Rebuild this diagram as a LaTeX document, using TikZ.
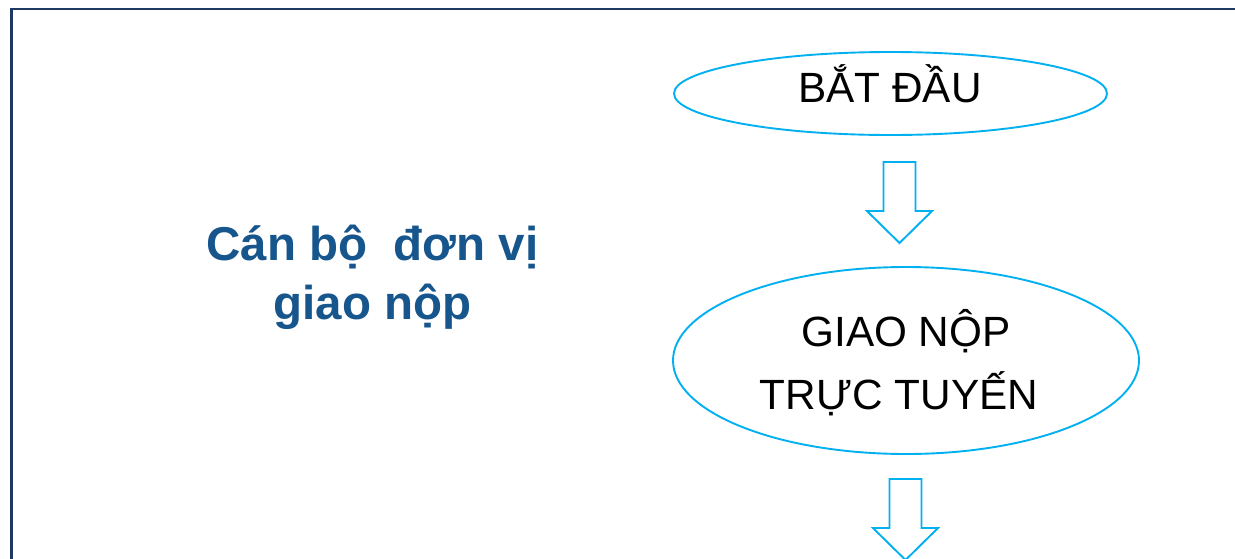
\documentclass[tikz,border=0pt]{standalone}
\usepackage{fontspec}
\setmainfont{Liberation Sans}
\usetikzlibrary{shapes.geometric}
\definecolor{framecol}{RGB}{31,56,100}
\definecolor{sky}{RGB}{0,176,240}
\definecolor{txtblue}{RGB}{23,86,140}
\begin{document}
\begin{tikzpicture}[x=1pt,y=-1pt,
  oval/.style={draw=sky, line width=1.9pt, ellipse, inner sep=0pt},
  flowtext/.style={anchor=base, inner sep=0pt, font=\fontsize{42.3}{50}\selectfont},
  lefttext/.style={anchor=base, inner sep=0pt, text=txtblue, font=\fontsize{47.5}{56}\selectfont\bfseries},
  blockarrow/.pic={\draw[sky, line width=1.9pt, line join=miter, fill=white]
     (-16,0) -- (16,0) -- (16,49) -- (32.5,49) -- (0,81) -- (-32.5,49) -- (-16,49) -- cycle;}]
\useasboundingbox (0,0) rectangle (1235,558);
\clip (0,0) rectangle (1235,558);
\fill[white] (0,0) rectangle (1235,558);
% frame
\draw[framecol, line width=2.2pt] (11.5,570) -- (11.5,9) -- (1250,9);
% left label
\node[lefttext] (l1) at (372.5,260) {Cán bộ\ \ đơn vị};
\node[lefttext] (l2) at (372.5,319) {giao nộp};
% start
\node[oval, minimum width=433pt, minimum height=83pt] (start) at (890.5,93.5) {};
\node[flowtext] (starttxt) at (890,102) {BẮT ĐẦU};
% arrow 1
\coordinate (a1) at (899.5,162);
\pic at (a1) {blockarrow};
% submit
\node[oval, minimum width=466pt, minimum height=187pt] (submit) at (906,360.5) {};
\node[flowtext] (subtxt1) at (906,346) {GIAO NỘP};
\node[flowtext] (subtxt2) at (899,409) {TRỰC TUYẾN};
% arrow 2
\coordinate (a2) at (905.5,479);
\pic at (a2) {blockarrow};
\end{tikzpicture}
\end{document}
